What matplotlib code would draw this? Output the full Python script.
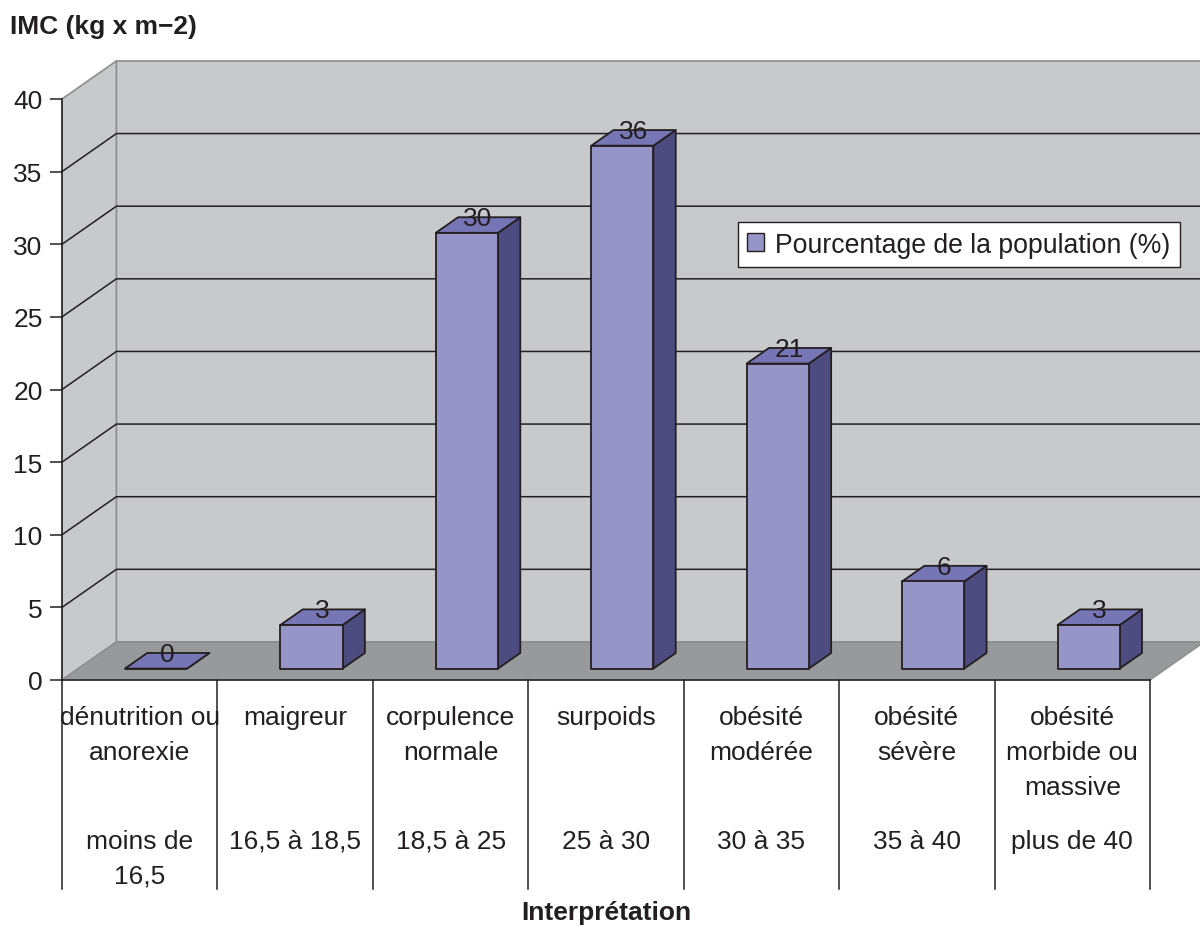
import matplotlib
matplotlib.use('Agg')
import matplotlib.pyplot as plt
from matplotlib.patches import Polygon, Patch

plt.rcParams['font.family'] = ['Liberation Sans', 'DejaVu Sans']

# ---------------- data ----------------
categories = ["dénutrition ou\nanorexie", "maigreur", "corpulence\nnormale", "surpoids",
              "obésité\nmodérée", "obésité\nsévère", "obésité\nmorbide ou\nmassive"]
imc_ranges = ["moins de\n16,5", "16,5 à 18,5", "18,5 à 25", "25 à 30",
              "30 à 35", "35 à 40", "plus de 40"]
values = [0, 3, 30, 36, 21, 6, 3]
yticks = [0, 5, 10, 15, 20, 25, 30, 35, 40]
series_label = "Pourcentage de la population (%)"
y_title = "IMC (kg x m−2)"
x_title = "Interprétation"

# ---------------- style ----------------
DARK = '#231f20'
WALL = '#c8c9cb'
FLOOR = '#98999b'
EDGE_GRAY = '#8c8c8e'
FRONT = '#9595c8'
TOP = '#7676b6'
SIDE = '#4c4c80'
FS = 19

W, H = 1200, 928
fig = plt.figure(figsize=(W / 100, H / 100), dpi=100)
fig.patch.set_facecolor('white')
ax = fig.add_axes([62 / W, 1 - 681 / H, 1088 / W, 581 / H])
n = len(categories)
ymin, ymax = yticks[0], yticks[-1]
ax.set_xlim(0, n)
ax.set_ylim(ymin, ymax)
ax.patch.set_visible(False)

# depth offsets (data units)
DX = 0.35
DY = 2.62

# walls and floor
ax.add_patch(Polygon([(DX, DY), (n + DX, DY), (n + DX, ymax + DY), (DX, ymax + DY)],
                     closed=True, fc=WALL, ec=EDGE_GRAY, lw=1.2, clip_on=False, zorder=0))
ax.add_patch(Polygon([(0, 0), (DX, DY), (DX, ymax + DY), (0, ymax)],
                     closed=True, fc=WALL, ec=EDGE_GRAY, lw=1.2, clip_on=False, zorder=0))
ax.add_patch(Polygon([(0, 0), (n, 0), (n + DX, DY), (DX, DY)],
                     closed=True, fc=FLOOR, ec=EDGE_GRAY, lw=1.0, clip_on=False, zorder=0.5))

# gridlines on side + back wall
for v in yticks[1:-1]:
    ax.plot([0, DX, n + DX], [v, v + DY, v + DY], color=DARK, lw=1.1,
            clip_on=False, zorder=0.4)

# bars
f0, f1 = 0.30, 0.71
hw = 0.2
ddx = (f1 - f0) * DX
ddy = (f1 - f0) * DY
for i, v in enumerate(values):
    c = i + 0.5
    x0 = c - hw + f0 * DX
    x1 = c + hw + f0 * DX
    yb = f0 * DY
    side = [(x1, yb), (x1 + ddx, yb + ddy), (x1 + ddx, yb + v + ddy), (x1, yb + v)]
    top = [(x0, yb + v), (x1, yb + v), (x1 + ddx, yb + v + ddy), (x0 + ddx, yb + v + ddy)]
    front = [(x0, yb), (x1, yb), (x1, yb + v), (x0, yb + v)]
    for pts, col in ((side, SIDE), (top, TOP), (front, FRONT)):
        ax.add_patch(Polygon(pts, closed=True, fc=col, ec=DARK, lw=1.3,
                             joinstyle='round', clip_on=False, zorder=3))
    ax.annotate(str(v), xy=((x0 + x1) / 2 + ddx / 2, yb + v + ddy / 2),
                xytext=(0, 5), textcoords='offset points', ha='center', va='center',
                fontsize=FS, color=DARK, zorder=6, annotation_clip=False)

# axes styling
for s in ('top', 'right'):
    ax.spines[s].set_visible(False)
ax.spines['left'].set_color(DARK)
ax.spines['left'].set_linewidth(1.1)
ax.spines['bottom'].set_color(DARK)
ax.spines['bottom'].set_linewidth(1.1)
ax.spines['left'].set_zorder(2)
ax.spines['bottom'].set_zorder(2)
ax.set_yticks(yticks)
ax.set_yticklabels([str(t) for t in yticks])
ax.tick_params(axis='y', length=9, width=1.1, direction='out', pad=5,
               labelsize=19, colors=DARK)
ax.set_xticks([])

# category table below the floor
xt = ax.get_xaxis_transform()
table_bottom = -0.36
for b in range(n + 1):
    ax.plot([b, b], [0, table_bottom], transform=xt, color=DARK, lw=1.1, clip_on=False)
for i, (cat, rng) in enumerate(zip(categories, imc_ranges)):
    ax.text(i + 0.5, -0.043, cat, transform=xt, ha='center', va='top',
            fontsize=FS, color=DARK, linespacing=1.58)
    ax.text(i + 0.5, -0.256, rng, transform=xt, ha='center', va='top',
            fontsize=FS, color=DARK, linespacing=1.58)

ax.text(n / 2, -0.399, x_title, transform=xt, ha='center', va='center',
        fontsize=FS, fontweight='bold', color=DARK)
fig.text(10 / W, 1 - 27 / H, y_title, ha='left', va='center',
         fontsize=FS, fontweight='bold', color=DARK)

# legend
leg = ax.legend(handles=[Patch(facecolor=FRONT, edgecolor=DARK, linewidth=1.0)],
                labels=[series_label], loc='upper right',
                bbox_to_anchor=((1180 - 62) / 1088, (681 - 223) / 581),
                bbox_transform=ax.transAxes, fontsize=19.2, frameon=True,
                fancybox=False, framealpha=1, edgecolor=DARK,
                handlelength=0.65, handleheight=0.65, handletextpad=0.4,
                borderpad=0.36, borderaxespad=0)
leg.get_frame().set_linewidth(1.0)
for t in leg.get_texts():
    t.set_color(DARK)
leg.set_zorder(7)

fig.savefig('out.png', dpi=100, facecolor='white')
